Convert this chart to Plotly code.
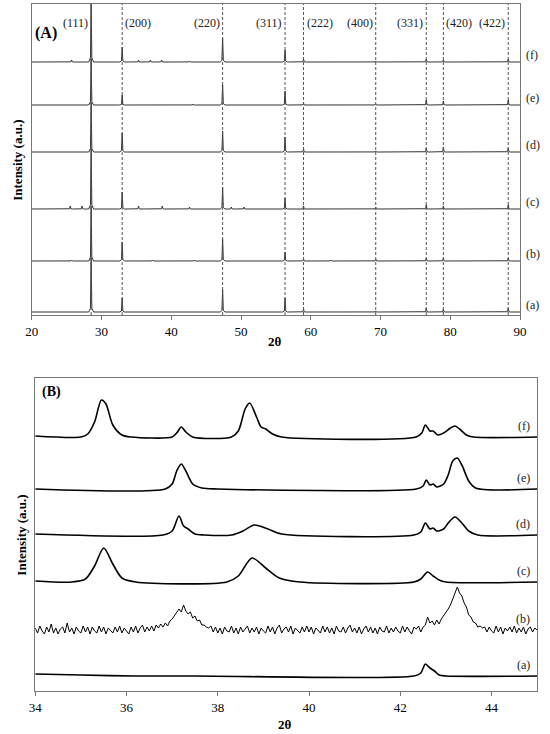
import plotly.graph_objects as go

# ---------------- panel (A): wide scan 20-90 ----------------
hkl_labels = ["(111)", "(200)", "(220)", "(311)", "(222)", "(400)", "(331)", "(420)", "(422)"]
hkl_pos = [28.5, 32.95, 47.35, 56.3, 58.95, 69.3, 76.55, 79.0, 88.3]

samples = ["(a)", "(b)", "(c)", "(d)", "(e)", "(f)"]

# peak heights (a.u.) of every sample at the hkl positions
hA_a = [54, 14, 22, 14, 3, 1, 4, 3, 4]
hA_b = [55, 19, 22, 9, 2, 2, 3, 3, 3]
hA_c = [60, 17, 22, 11, 3, 2, 4, 3, 4]
hA_d = [50, 19, 21, 15, 3, 1, 4, 5, 4]
hA_e = [46, 10, 20, 14, 2, 1, 5, 4, 5]
hA_f = [60, 15, 24, 12, 3, 1, 3, 2, 3]

# small extra reflections
extra_pos_b = [25.7, 37.3, 43.3, 62.9]
extra_h_b = [1, 1, 1, 1]
extra_pos_c = [25.5, 27.2, 35.3, 38.7, 42.6, 48.6, 50.4]
extra_h_c = [3, 3, 3, 3, 2, 2, 2]
extra_pos_e = [43.1]
extra_h_e = [1]
extra_pos_f = [25.7, 35.3, 37.0, 38.6, 42.6]
extra_h_f = [2, 2, 2, 2, 1]

# ---------------- panel (B): zoom 34-45 ----------------
xB_a = [34, 35.0, 36.2, 37.5, 42.3, 42.45, 42.55, 42.65, 42.75, 42.85, 43.0, 45.0]
yB_a = [2, 1, 0, 0, 0, 3, 12, 8, 5, 1, 0, 0]

xB_b = [round(34 + 0.05 * i, 2) for i in range(221)]
yB_b = [2, -3, 4, -1, -4, 3, -2, 6, -3, 2, -4, 1, 3, -3, 7, -2, 2, -4, 3, -1,
        -3, 4, -2, 3, -4, 3, -1, -3, 4, -2, 3, -4, 2, -1, -3, 3, -2, 4, -3, 2,
        -1, -4, 3, -2, 4, -3, 2, 5, -2, 3, -1, 4, -1, 5, 2, 6, 3, 7, 4, 9,
        11, 14, 17, 21, 18, 25, 19, 16, 18, 12, 14, 9, 10, 5, 5, 3, 2, 4, -2, 3,
        -3, 2, -4, 3, -1, -2, 4, -3, 2, -4, 3, -2, 1, 4, -3, 2, -2, 3, -4, 2,
        -1, -3, 4, -2, 3, -4, 2, 5, -3, 1, 3, -2, 4, -4, 2, -1, -3, 3, -2, 4,
        -2, 3, -4, 2, -1, -3, 4, -2, 3, -3, 2, -4, 4, -1, -2, 3, -3, 2, 5, -2,
        2, -3, 3, -4, 1, 4, -2, 3, -3, 2, -4, 3, -1, -2, 4, -3, 2, -2, 3, -1,
        -3, 4, -2, 3, -1, -4, 3, 1, 4, -2, 3, 5, 13, 7, 9, 5, 10, 6, 11, 14,
        17, 21, 25, 31, 37, 43, 37, 34, 27, 23, 15, 13, 8, 7, 3, 4, 2, 3, -2, 3,
        -1, -3, 4, -2, 3, -4, 2, -1, 3, -2, 4, -3, 2, -2, 3, -4, 1, 3, -2, 2,
        0]

xB_c = [34, 34.8, 35.1, 35.3, 35.5, 35.7, 35.9, 36.2, 38.2, 38.45, 38.75, 39.05, 39.35, 39.8,
        42.3, 42.45, 42.6, 42.72, 42.85, 43.0, 45]
yB_c = [1, 0, 3, 16, 34, 18, 4, 0, 0, 6, 24, 14, 4, 0, 0, 3, 10, 6, 2, 0, 0]

xB_d = [34, 36.8, 37.0, 37.15, 37.25, 37.35, 37.5, 37.7, 38.3, 38.55, 38.8, 39.1, 39.4,
        42.3, 42.45, 42.55, 42.65, 42.72, 42.8, 42.95, 43.05, 43.2, 43.35, 43.5, 43.7, 45]
yB_d = [1, 0, 4, 19, 9, 6, 1, 0, 0, 4, 10, 6, 1, 0, 3, 12, 6, 7, 4, 6, 12, 18, 12, 4, 0, 0]

xB_e = [34, 36.85, 37.0, 37.1, 37.2, 37.3, 37.45, 37.65, 38.0, 42.35, 42.5, 42.57, 42.65, 42.72,
        42.8, 42.95, 43.05, 43.15, 43.25, 43.35, 43.5, 43.65, 45]
yB_e = [0, 0, 5, 18, 25, 18, 5, 1, 0, 0, 3, 9, 4, 5, 2, 5, 14, 28, 31, 24, 8, 1, 0]

xB_f = [34, 35.0, 35.15, 35.3, 35.45, 35.55, 35.7, 35.9, 36.1, 37.0, 37.1, 37.2, 37.3, 37.45,
        38.3, 38.45, 38.6, 38.7, 38.85, 38.95, 39.05, 39.2, 39.4,
        42.35, 42.47, 42.55, 42.65, 42.72, 42.82, 42.95, 43.1, 43.2, 43.3, 43.45, 43.6, 45]
yB_f = [1, 0, 3, 15, 37, 33, 12, 2, 0, 0, 4, 10, 5, 0, 0, 6, 28, 34, 20, 10, 8, 3, 0,
        0, 4, 12, 6, 6, 2, 4, 9, 11, 8, 2, 0, 0]

# vertical offsets of the stacked patterns
offA = [3, 54, 106, 163, 210, 253]
offB = [15, 61, 109, 156, 202, 254]

FONT = "Liberation Serif"


def stick_pattern(pos, h):
    # thin spike with a small foot for every reflection
    pts = sorted(zip(pos, h))
    xs, ys = [20], [0]
    for p, hh in pts:
        xs += [p - 0.35, p - 0.1, p, p + 0.1, p + 0.35]
        ys += [0, 0.07 * hh, hh, 0.07 * hh, 0]
    xs.append(90)
    ys.append(0)
    return xs, ys


fig = go.Figure()

heightsA = [hA_a, hA_b, hA_c, hA_d, hA_e, hA_f]
extrasA = [([], []), (extra_pos_b, extra_h_b), (extra_pos_c, extra_h_c), ([], []),
           (extra_pos_e, extra_h_e), (extra_pos_f, extra_h_f)]
for i, s in enumerate(samples):
    xs, ys = stick_pattern(hkl_pos + extrasA[i][0], heightsA[i] + extrasA[i][1])
    fig.add_trace(go.Scatter(x=xs, y=[v + offA[i] for v in ys], mode="lines",
                             line=dict(color="#333333", width=1), showlegend=False,
                             xaxis="x", yaxis="y"))

seriesB = [(xB_a, yB_a), (xB_b, yB_b), (xB_c, yB_c), (xB_d, yB_d), (xB_e, yB_e), (xB_f, yB_f)]
for i, s in enumerate(samples):
    xs, ys = seriesB[i]
    fig.add_trace(go.Scatter(x=xs, y=[v + offB[i] for v in ys], mode="lines",
                             line=dict(color="black", width=1.6 if i != 1 else 1,
                                       shape="linear" if i == 1 else "spline", smoothing=0.8),
                             showlegend=False, xaxis="x2", yaxis="y2"))

# dashed reference lines at the hkl positions
for p in hkl_pos:
    fig.add_shape(type="line", xref="x", yref="y domain", x0=p, x1=p, y0=0, y1=1,
                  line=dict(color="#555555", width=1, dash="3px,2px"))

annotations = []
sides = ["left", "right", "left", "left", "right", "left", "left", "right", "left"]
for lab, p, sd in zip(hkl_labels, hkl_pos, sides):
    annotations.append(dict(x=p, y=1 - 23 / 734, xref="x", yref="paper", text=lab, showarrow=False,
                            xanchor="right" if sd == "left" else "left", yanchor="middle",
                            xshift=-1 if sd == "left" else 1,
                            font=dict(family=FONT, size=12, color="#222")))
for i, s in enumerate(samples):
    annotations.append(dict(x=530 / 550, y=offA[i] + 7, xref="paper", yref="y", text=s,
                            showarrow=False, xanchor="left", yanchor="middle",
                            font=dict(family=FONT, size=12, color="#222")))
    annotations.append(dict(x=44.88, y=offB[i] + 11, xref="x2", yref="y2", text=s,
                            showarrow=False, xanchor="right", yanchor="middle",
                            font=dict(family=FONT, size=12, color="#222")))

common = dict(xref="paper", yref="paper", showarrow=False, xanchor="center", yanchor="middle")
annotations += [
    dict(x=40 / 550, y=1 - 33 / 734, text="<b>(A)</b>",
         font=dict(family=FONT, size=16, color="black"), **common),
    dict(x=46 / 550, y=1 - 392 / 734, text="<b>(B)</b>",
         font=dict(family=FONT, size=14, color="black"), **common),
    dict(x=10 / 550, y=1 - 160 / 734, text="<b>Intensity (a.u.)</b>", textangle=-90,
         font=dict(family=FONT, size=13, color="black"), **common),
    dict(x=14 / 550, y=1 - 535 / 734, text="<b>Intensity (a.u.)</b>", textangle=-90,
         font=dict(family=FONT, size=13, color="black"), **common),
    dict(x=275 / 550, y=1 - 341 / 734, text="<b>2θ</b>",
         font=dict(family=FONT, size=13, color="black"), **common),
    dict(x=285 / 550, y=1 - 724 / 734, text="<b>2θ</b>",
         font=dict(family=FONT, size=13, color="black"), **common),
]

axis_style = dict(showline=True, linecolor="#777777", linewidth=1, mirror=True,
                  showgrid=False, zeroline=False,
                  tickfont=dict(family=FONT, size=13, color="black"))

fig.update_layout(
    width=550, height=734,
    margin=dict(l=0, r=0, t=0, b=0),
    paper_bgcolor="white", plot_bgcolor="white",
    xaxis=dict(domain=[25.5 / 550, 526.5 / 550], range=[20, 90], dtick=10,
               ticks="outside", ticklen=4, tickcolor="#777777", anchor="y", **axis_style),
    yaxis=dict(domain=[1 - 315 / 734, 1 - 4 / 734], range=[0, 311], showticklabels=False,
               anchor="x", **axis_style),
    xaxis2=dict(domain=[29 / 550, 544 / 550], range=[34, 45], tickvals=[34, 36, 38, 40, 42, 44],
                ticks="outside", ticklen=4, tickcolor="#777777", anchor="y2", **axis_style),
    yaxis2=dict(domain=[1 - 691 / 734, 1 - 378 / 734], range=[0, 313], showticklabels=False,
                anchor="x2", **axis_style),
    annotations=annotations,
)

fig.write_html("out.html", config={"displayModeBar": False, "responsive": False},
               post_script="document.body.style.margin='0';document.body.style.overflow='hidden';")
